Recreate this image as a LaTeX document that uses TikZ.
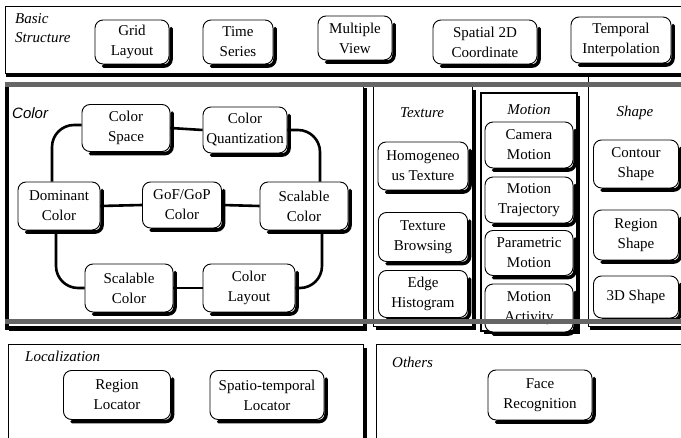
\documentclass[tikz,border=0pt]{standalone}
\usepackage{fontspec}
\setmainfont{Liberation Serif}
\setsansfont{Liberation Sans}
\usetikzlibrary{calc}
\begin{document}
\begin{tikzpicture}[x=1pt,y=-1pt,
  box/.style={draw, rounded corners=8pt, fill=white, align=center, inner sep=0pt,
    line width=0.9pt, font=\fontsize{15}{20}\selectfont},
  shad/.style={line width=3.6pt, rounded corners=7pt, line cap=round},
  conn/.style={line width=2.6pt, rounded corners=22pt},
  grp/.style={draw, line width=1pt, fill=white},
  lbl/.style={font=\fontsize{15}{18}\selectfont\itshape, inner sep=0pt},
  band/.style={fill=black!60, draw=none},
]
\useasboundingbox (0,0) rectangle (681,438);
\fill[white] (0,0) rectangle (681,438);

% ---------- group frames ----------
\draw[grp] (5,7) rectangle (700,74);
\draw[line width=3pt] (6,75.5) -- (700,75.5);
% color
\draw[grp] (8,85) rectangle (363,327);
\draw[line width=4pt] (7,85) -- (7,330);
\draw[line width=3.5pt] (365,88) -- (365,329) -- (9,329);
% texture
\draw[grp] (373,87) rectangle (472,327);
\draw[line width=3pt] (474,90) -- (474,329) -- (376,329);
% motion
\draw[grp, line width=2.6pt] (481,93) rectangle (577,331);
\draw[line width=2.5pt] (579,96) -- (579,333) -- (484,333);
% shape
\draw[grp] (588,87) rectangle (700,327);
\draw[line width=3pt] (590,329) -- (700,329);
\draw[line width=0.8pt] (588,74) -- (588,87);
% localization / others
\draw[grp] (8,345) rectangle (363,460);
\draw[line width=3.5pt] (365,348) -- (365,460);
\draw[grp] (376,345) rectangle (700,460);

% ---------- Basic structure ----------
\node[lbl, anchor=west] (lbs1) at (15,19) {Basic};
\node[lbl, anchor=west] (lbs2) at (15,38) {Structure};
\node[box, minimum width=74pt, minimum height=44pt] (grid) at (132,42) {Grid\\Layout};
\node[box, minimum width=70pt, minimum height=44pt] (time) at (238,42) {Time\\Series};
\node[box, minimum width=74pt, minimum height=44pt] (mult) at (355,38) {Multiple\\View};
\node[box, minimum width=104pt, minimum height=44pt] (spat) at (485,42) {Spatial 2D\\Coordinate};
\node[box, minimum width=100pt, minimum height=46pt] (temp) at (621,40) {Temporal\\Interpolation};

% ---------- Color ----------
\node[font=\fontsize{15}{18}\selectfont\sffamily\itshape, anchor=west, inner sep=0pt] (lcol) at (12,113) {Color};
\node[box, minimum width=88pt, minimum height=47pt] (cs) at (126,128) {Color\\Space};
\node[box, minimum width=84pt, minimum height=46pt] (cq) at (245,130) {Color\\Quantization};
\node[box, minimum width=82pt, minimum height=48pt] (dom) at (59,206) {Dominant\\Color};
\node[box, minimum width=79pt, minimum height=46pt] (gof) at (182,205) {GoF/GoP\\Color};
\node[box, minimum width=88pt, minimum height=48pt] (scr) at (304,206) {Scalable\\Color};
\node[box, minimum width=88pt, minimum height=48pt] (scb) at (129,288) {Scalable\\Color};
\node[box, minimum width=92pt, minimum height=48pt] (cl) at (249,288) {Color\\Layout};

% color connectors
\draw[conn] (cs.east) -- (cq.west);
\draw[conn] (dom.east) -- (gof.west);
\draw[conn] (gof.east) -- (scr.west);
\draw[conn] (scb.east) -- (cl.west);
\draw[conn] ([yshift=3pt]cs.west) -| ([xshift=-7pt]dom.north);
\draw[conn] (cq.east) -| ([xshift=16pt]scr.north);
\draw[conn] ([xshift=-3pt]dom.south) |- (scb.west);
\draw[conn] ([xshift=18pt]scr.south) |- (cl.east);

% ---------- Texture ----------
\node[lbl] (ltex) at (422,113) {Texture};
\node[box, minimum width=90pt, minimum height=48pt] (homo) at (423,166) {Homogeneo\\us Texture};
\node[box, minimum width=89pt, minimum height=49pt] (tbro) at (423,237) {Texture\\Browsing};
\node[box, minimum width=89pt, minimum height=47pt] (edge) at (423,294) {Edge\\Histogram};

% ---------- Motion ----------
\node[lbl] (lmot) at (529,110) {Motion};
\node[box, minimum width=88pt, minimum height=46pt] (cam) at (529,145) {Camera\\Motion};
\node[box, minimum width=88pt, minimum height=46pt] (traj) at (529,200) {Motion\\Trajectory};
\node[box, minimum width=88pt, minimum height=45pt] (par) at (529,253) {Parametric\\Motion};
\node[box, minimum width=88pt, minimum height=48pt] (act) at (529,308) {Motion\\Activity};

% ---------- Shape ----------
\node[lbl] (lsha) at (635,113) {Shape};
\node[box, minimum width=85pt, minimum height=48pt] (cont) at (636,164) {Contour\\Shape};
\node[box, minimum width=85pt, minimum height=50pt] (regs) at (636,235) {Region\\Shape};
\node[box, minimum width=85pt, minimum height=42pt] (shp3) at (636,297) {3D Shape};

% ---------- Localization / Others ----------
\node[lbl, anchor=west] (lloc) at (25,356) {Localization};
\node[box, minimum width=107pt, minimum height=49pt] (rloc) at (117,395) {Region\\Locator};
\node[box, minimum width=114pt, minimum height=49pt] (sloc) at (267,395) {Spatio-temporal\\Locator};
\node[lbl, anchor=west] (loth) at (392,362) {Others};
\node[box, minimum width=104pt, minimum height=50pt] (face) at (540,395) {Face\\Recognition};

% ---------- node shadows: thick bottom-right strokes ----------
\foreach \n in {grid,time,mult,spat,temp,cs,cq,dom,gof,scr,scb,cl,homo,tbro,edge,cam,traj,par,act,cont,regs,shp3,rloc,sloc,face}{
  \draw[shad] ([shift={(1.6pt,-9pt)}]\n.north east) -- ([shift={(1.6pt,-1.6pt)}]\n.south east) -- ([shift={(9pt,-1.6pt)}]\n.south west);
}

% ---------- bands ----------
\fill[band] (5,82) rectangle (681,87);
\fill[band] (5,319) rectangle (681,324);
\end{tikzpicture}
\end{document}
